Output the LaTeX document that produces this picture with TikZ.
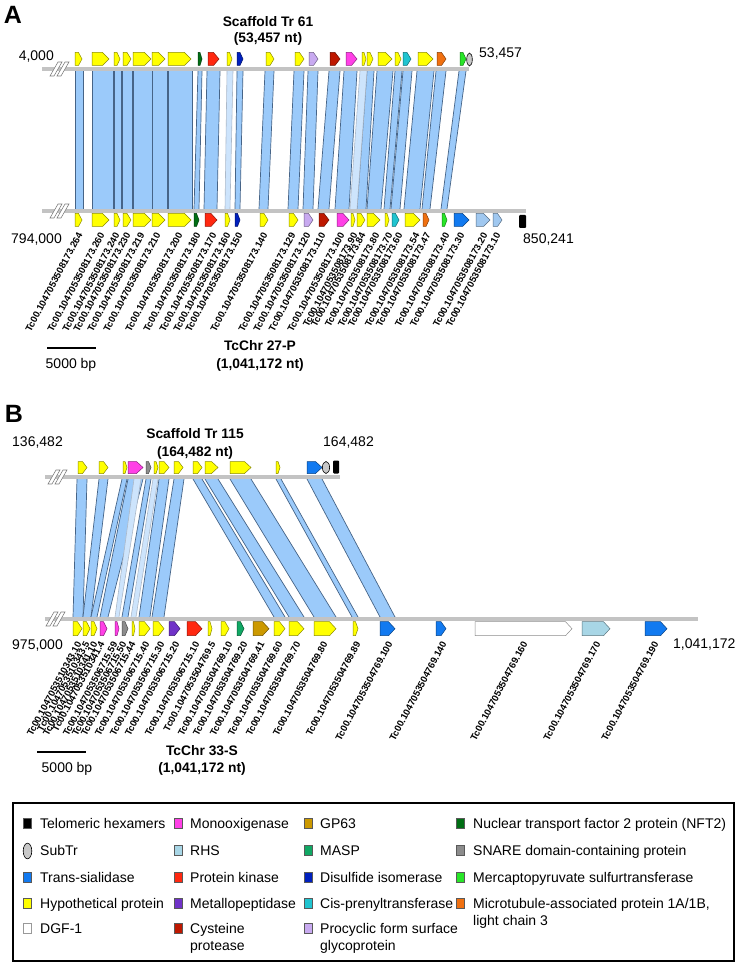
\documentclass[tikz,border=0pt]{standalone}
\usepackage{fontspec}
\setmainfont{Liberation Sans}
\definecolor{hyp}{RGB}{255,255,0}
\definecolor{ts}{RGB}{18,122,240}
\definecolor{dgf}{RGB}{255,255,255}
\definecolor{mono}{RGB}{255,64,230}
\definecolor{rhs}{RGB}{168,214,230}
\definecolor{pk}{RGB}{255,40,16}
\definecolor{metal}{RGB}{112,50,200}
\definecolor{cys}{RGB}{190,24,0}
\definecolor{gpsix}{RGB}{204,153,0}
\definecolor{masp}{RGB}{16,168,100}
\definecolor{disulf}{RGB}{0,32,190}
\definecolor{cispren}{RGB}{32,196,208}
\definecolor{procyc}{RGB}{200,170,240}
\definecolor{nft}{RGB}{0,110,20}
\definecolor{snare}{RGB}{140,140,140}
\definecolor{mercap}{RGB}{40,230,40}
\definecolor{microt}{RGB}{240,112,16}
\definecolor{paleblue}{RGB}{160,200,240}
\definecolor{subtr}{RGB}{200,200,200}
\definecolor{bandfill}{RGB}{155,202,250}
\definecolor{bandlight}{RGB}{205,228,252}
\definecolor{bandedge}{RGB}{70,100,135}
\definecolor{chrline}{RGB}{195,195,195}
\def\gh{6.5}
\newcommand\genearr[4]{%
  \pgfmathsetmacro\gtip{min(6.5,0.5*(#2-#1))}%
  \pgfmathsetmacro\gsh{#2-\gtip}%
  \colorlet{gcol}{#4}%
  \draw[genebox,fill=gcol,draw=gcol!55!black] (#1,#3-\gh) -- (\gsh,#3-\gh) -- (#2,#3) -- (\gsh,#3+\gh) -- (#1,#3+\gh) -- cycle;}
\newcommand\hband[6]{\fill[bandfill] (#1,#5) -- (#2,#5) -- (#4,#6) -- (#3,#6) -- cycle;
  \draw[bandedge, line width=0.7pt] (#1,#5) -- (#3,#6) (#2,#5) -- (#4,#6);}
\newcommand\lband[6]{\fill[bandlight] (#1,#5) -- (#2,#5) -- (#4,#6) -- (#3,#6) -- cycle;
  \draw[bandedge!45, line width=0.6pt] (#1,#5) -- (#3,#6) (#2,#5) -- (#4,#6);}
\newcommand\brk[2]{\draw[brkmark] (#1,#2+7) -- (#1+4,#2+7) -- (#1+12,#2-7) -- (#1+8,#2-7) -- cycle;
  \draw[brkmark] (#1+7,#2+7) -- (#1+11,#2+7) -- (#1+19,#2-7) -- (#1+15,#2-7) -- cycle;}
\newcommand\twolines[2]{\begin{tabular}[t]{@{}l@{}}#1\\#2\end{tabular}}
\begin{document}
\begin{tikzpicture}[x=1pt,y=-1pt,
  chrom/.style={draw=chrline, line width=3.5pt},
  brkmark/.style={fill=white, draw=gray, line width=0.6pt},
  genebox/.style={line width=0.5pt, line join=miter},
  glabel/.style={font=\fontsize{9.5}{10}\selectfont\bfseries, rotate=62, anchor=east, inner sep=0pt},
  numtxt/.style={font=\fontsize{14}{16}\selectfont, inner sep=0pt},
  titletxt/.style={font=\fontsize{13.8}{16}\selectfont\bfseries, inner sep=0pt, anchor=base},
  paneltxt/.style={font=\fontsize{25}{25}\selectfont\bfseries, inner sep=0pt},
  legtxt/.style={font=\fontsize{14}{17.5}\selectfont, inner sep=0pt, anchor=base west},
  swatch/.style={draw=black!65, line width=0.5pt, minimum width=8pt, minimum height=10pt, inner sep=0pt},
  scalebar/.style={draw=black, line width=2pt}]
\useasboundingbox (0,0) rectangle (741,965);
\fill[white] (0,0) rectangle (741,965);

% ================= Panel A =================
\node[paneltxt] (lblA) at (13,15) {A};
\node[titletxt] (ttlA) at (268,27) {Scaffold Tr 61};
\node[titletxt] (ttlAb) at (268,43) {(53,457 nt)};
\node[numtxt, anchor=base east] (a1) at (54,61) {4,000};
\node[numtxt, anchor=base west] (a2) at (479,58) {53,457};
\node[numtxt, anchor=base east] (a3) at (62,244) {794,000};
\node[numtxt, anchor=base west] (a4) at (523,244) {850,241};

% bands A
\foreach \a/\b/\c/\d in {75/83/75/83, 92/113/92/113, 114/121/114/121, 122/132/122/132,
  133/152/133/152, 152/167/152/167, 168/192/168/192, 198/202/194/199, 207/220/204/217,
  237/243/235/240, 265/274/259/268, 294/304/288/298, 308/318/303/313, 329/340/318/329,
  344/357/335/349, 367/374/357/366, 377/393/367/381, 395/402/384/390, 403/412/391/400,
  417/434/404/420, 436/446/422/430, 459/466/441/447}
  {\hband{\a}{\b}{\c}{\d}{71}{209}}
\lband{227}{233}{225}{230}{71}{209}
\lband{360}{367}{350}{357}{71}{209}

\draw[chrom] (42,69) -- (469,69);
\draw[chrom] (42,211) -- (526,211);
\brk{50}{69}
\brk{50}{211}

% top genes A
\def\gh{6.5}
\foreach \p/\q/\c in {75/82/hyp, 92/109/hyp, 114/120/hyp, 123/131/hyp, 133/151/hyp,
  152/165/hyp, 168/191/hyp, 198/202/nft, 208/219/pk, 227/232/hyp, 237/243/disulf,
  266/274/hyp, 295/304/hyp, 309/318/procyc, 330/340/cys, 346/357/mono, 362/366/hyp,
  367/373/hyp, 378/392/hyp, 395/401/hyp, 403/411/cispren, 418/433/hyp, 437/446/microt,
  460/466/mercap}
  {\genearr{\p}{\q}{59}{\c}}
\draw[fill=subtr, draw=black, line width=0.6pt] (469.5,59.5) ellipse [x radius=2.8, y radius=6.5];

% bottom genes A
\foreach \p/\q/\c in {75/82/hyp, 92/109/hyp, 114/120/hyp, 123/131/hyp, 133/151/hyp,
  152/165/hyp, 168/191/hyp, 194/199/nft, 205/217/pk, 225/230/hyp, 235/240/disulf,
  260/268/hyp, 289/298/hyp, 304/313/procyc, 319/329/cys, 337/349/mono, 351/355/hyp,
  357/365/hyp, 367/380/hyp, 385/389/hyp, 392/399/cispren, 405/420/hyp, 423/429/microt,
  442/447/mercap, 454/469/ts, 476/490/paleblue, 493/502/paleblue}
  {\genearr{\p}{\q}{220}{\c}}
\fill[black, rounded corners=1pt] (519,215) rectangle (526,228);

% labels A
\foreach \x/\t in {80/264, 102/260, 117/240, 128/230, 142/219, 158/210, 180/200, 198/180,
  214/170, 228/160, 240/150, 265/140, 293/129, 308/120, 323/110, 342/100, 355/90, 363/84,
  377/80, 390/70, 400/60, 417/54, 428/47, 447/40, 462/30, 485/20, 498/10}
  {\node[glabel] at (\x,233) {Tc00.1047053508173.\t};}

\draw[scalebar] (47,348) -- (96,348);
\node[numtxt, anchor=base] (sbA) at (71,368) {5000 bp};
\node[titletxt] (chrA) at (260,350) {TcChr 27-P};
\node[titletxt] (chrAb) at (260,368) {(1,041,172 nt)};

% ================= Panel B =================
\node[paneltxt] (lblB) at (14,413.5) {B};
\node[titletxt] (ttlB) at (195,438) {Scaffold Tr 115};
\node[titletxt] (ttlBb) at (195,456) {(164,482 nt)};
\node[numtxt, anchor=base east] (b1) at (63,446) {136,482};
\node[numtxt, anchor=base west] (b2) at (323,446) {164,482};
\node[numtxt, anchor=base east] (b3) at (63,649) {975,000};
\node[numtxt, anchor=base west] (b4) at (673,648) {1,041,172};

% bands B
\foreach \a/\b/\c/\d in {77/87/73/83, 99/108/83/91, 122/127/91/97, 128/143/100/108,
  146/151/122/128, 159/169/139/150, 174/184/152/164, 193/202/274/285, 205/218/289/304,
  230/251/314/336, 276/281/352/358, 307/322/380/395}
  {\hband{\a}{\b}{\c}{\d}{479}{617}}
\lband{134}{141}{115}{119}{479}{617}
\lband{153}{158}{131}{136}{479}{617}

\draw[chrom] (45,477) -- (340,477);
\draw[chrom] (45,619) -- (698,619);
\brk{48}{477}
\brk{46}{619}

% top genes B
\def\gh{6}
\foreach \p/\q/\c in {78/87/hyp, 99/108/hyp, 123/127/hyp, 128/143/mono, 146/151/snare,
  154/158/hyp, 159/169/hyp, 174/183/hyp, 193/202/hyp, 205/218/hyp, 230/251/hyp,
  276/280/hyp, 307/322/ts}
  {\genearr{\p}{\q}{467.5}{\c}}
\draw[fill=subtr, draw=black, line width=0.6pt] (326,467.5) ellipse [x radius=3.6, y radius=6];
\fill[black, rounded corners=1pt] (333,460.5) rectangle (339,473.5);

% bottom genes B
\def\gh{7}
\foreach \p/\q/\c in {73/82/hyp, 83/90/hyp, 91/97/hyp, 100/107/mono, 115/119/mono,
  122/128/snare, 132/135/hyp, 139/150/hyp, 153/164/hyp, 169/180/metal, 187/202/pk,
  208/212/hyp, 221/229/hyp, 237/244/masp, 253/269/gpsix, 274/285/hyp, 289/304/hyp,
  314/336/hyp, 353/358/hyp, 380/395/ts, 436/446/ts, 475/572/dgf, 582/610/rhs, 645/667/ts}
  {\genearr{\p}{\q}{628.7}{\c}}

% labels B
\foreach \x/\t in {79/1047053510343.10, 87/1047053510343.5, 95/1047053510341.10,
  102/1047053510341.4, 115/1047053506715.59, 124/1047053506715.50, 133/1047053506715.44,
  147/1047053506715.40, 162/1047053506715.30, 177/1047053506715.20, 197/1047053506715.10,
  213/1047053504769.5, 230/1047053504769.10, 245/1047053504769.20, 262/1047053504769.41,
  280/1047053504769.60, 298/1047053504769.70, 325/1047053504769.80, 358/1047053504769.89,
  390/1047053504769.100, 444/1047053504769.140, 525/1047053504769.160,
  598/1047053504769.170, 656/1047053504769.190}
  {\node[glabel] at (\x,642) {Tc00.\t};}

\draw[scalebar] (37,752) -- (86,752);
\node[numtxt, anchor=base] (sbB) at (67,772) {5000 bp};
\node[titletxt] (chrB) at (202,755) {TcChr 33-S};
\node[titletxt] (chrBb) at (202,772) {(1,041,172 nt)};

% ================= Legend =================
\draw[line width=1.6pt] (13,803) rectangle (734,961);
% column 1
\node[swatch, fill=black] (s11) at (27.5,823) {};
\node[legtxt] (t11) at (40,828) {Telomeric hexamers};
\draw[fill=subtr, draw=black, line width=0.6pt] (27.5,851) ellipse [x radius=4.3, y radius=7.8];
\node[legtxt] (t12) at (40,855) {SubTr};
\node[swatch, fill=ts] (s13) at (27.5,877) {};
\node[legtxt] (t13) at (40,882) {Trans-sialidase};
\node[swatch, fill=hyp] (s14) at (27.5,903) {};
\node[legtxt] (t14) at (40,908) {Hypothetical protein};
\node[swatch, fill=white, draw=black!40] (s15) at (27.5,928) {};
\node[legtxt] (t15) at (40,933) {DGF-1};
% column 2
\node[swatch, fill=mono] (s21) at (178,823) {};
\node[legtxt] (t21) at (190,828) {Monooxigenase};
\node[swatch, fill=rhs] (s22) at (178,850) {};
\node[legtxt] (t22) at (190,855) {RHS};
\node[swatch, fill=pk] (s23) at (178,877) {};
\node[legtxt] (t23) at (190,882) {Protein kinase};
\node[swatch, fill=metal] (s24) at (178,903) {};
\node[legtxt] (t24) at (190,908) {Metallopeptidase};
\node[swatch, fill=cys] (s25) at (178,928) {};
\node[legtxt] (t25) at (190,933) {\twolines{Cysteine}{protease}};
% column 3
\node[swatch, fill=gpsix] (s31) at (308,823) {};
\node[legtxt] (t31) at (320,828) {GP63};
\node[swatch, fill=masp] (s32) at (308,850) {};
\node[legtxt] (t32) at (320,855) {MASP};
\node[swatch, fill=disulf] (s33) at (308,877) {};
\node[legtxt] (t33) at (320,882) {Disulfide isomerase};
\node[swatch, fill=cispren] (s34) at (308,903) {};
\node[legtxt] (t34) at (320,908) {Cis-prenyltransferase};
\node[swatch, fill=procyc] (s35) at (308,928) {};
\node[legtxt] (t35) at (320,933) {\twolines{Procyclic form surface}{glycoprotein}};
% column 4
\node[swatch, fill=nft] (s41) at (460,823) {};
\node[legtxt] (t41) at (473,828) {Nuclear transport factor 2 protein (NFT2)};
\node[swatch, fill=snare] (s42) at (460,850) {};
\node[legtxt] (t42) at (473,855) {SNARE domain-containing protein};
\node[swatch, fill=mercap] (s43) at (460,877) {};
\node[legtxt] (t43) at (473,882) {Mercaptopyruvate sulfurtransferase};
\node[swatch, fill=microt] (s44) at (460,903) {};
\node[legtxt] (t44) at (473,908) {\twolines{Microtubule-associated protein 1A/1B,}{light chain 3}};
\end{tikzpicture}
\end{document}
